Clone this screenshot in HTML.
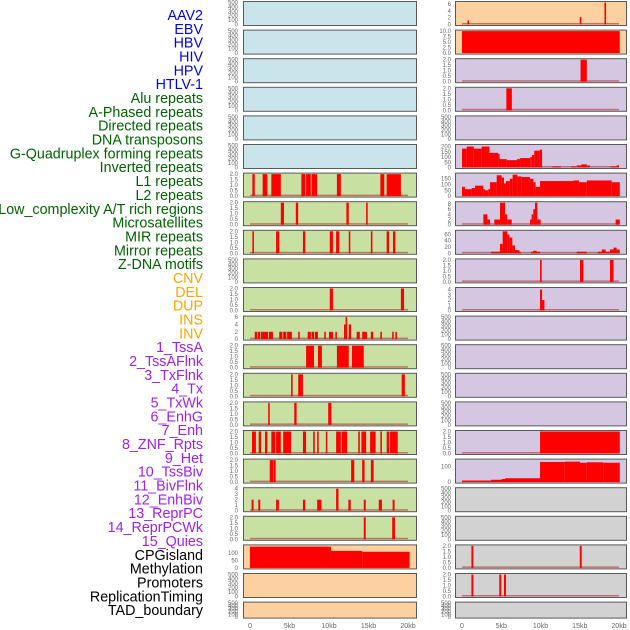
<!DOCTYPE html>
<html><head><meta charset="utf-8">
<style>
html,body{margin:0;padding:0;background:#fff;width:630px;height:630px;overflow:hidden}
svg{display:block}
text{font-family:"Liberation Sans",sans-serif}
</style></head>
<body>
<svg id="chart" width="630" height="630" viewBox="0 0 630 630">
<g id="labels"></g>
<g id="panels"></g>
<g id="xaxes"></g>
</svg>
<script>
// ---- label data ----
const trackLabels = ["AAV2","EBV","HBV","HIV","HPV","HTLV-1","Alu repeats","A-Phased repeats","Directed repeats","DNA transposons","G-Quadruplex forming repeats","Inverted repeats","L1 repeats","L2 repeats","Low_complexity A/T rich regions","Microsatellites","MIR repeats","Mirror repeats","Z-DNA motifs","CNV","DEL","DUP","INS","INV","1_TssA","2_TssAFlnk","3_TxFlnk","4_Tx","5_TxWk","6_EnhG","7_Enh","8_ZNF_Rpts","9_Het","10_TssBiv","11_BivFlnk","12_EnhBiv","13_ReprPC","14_ReprPCWk","15_Quies","CPGisland","Methylation","Promoters","ReplicationTiming","TAD_boundary"];
const labelGroups = [6,13,5,15,5];
const groupColors = ["#0000ff","#006400","#ffa500","#a020f0","#000000"];

// ---- tick label sets ----
const ticks500 = [0,100,200,300,400,500];
const ticks2 = [0.0,0.5,1.0,1.5,2.0];
const ticks6 = [0,2,4,6];
const ticks4 = [0,1,2,3,4];
const ticks10 = [0.0,2.5,5.0,7.5,10.0];
const ticks200 = [0,50,100,150,200];
const ticks150 = [0,50,100,150];
const ticks8 = [0,2,4,6,8];
const ticks60 = [0,20,40,60];
const ticks100 = [0,50,100];
const ticks100b = [0,100];
const xTickKb = [0,5,10,15,20];
const xTickLabels = ["0","5kb","10kb","15kb","20kb"];

// ---- segment data [startKb, endKb, value] ----
const L_L1 = [[0.3,0.6,2],[1.6,2.2,2],[2.7,3.9,2],[6.5,7.0,2],[7.1,7.7,2],[7.8,8.5,2],[11.0,11.5,2],[16.5,17.0,2],[17.3,19.1,2]];
const L_row7 = [[3.9,4.3,2],[5.8,6.1,2],[12.2,12.5,2],[14.7,14.9,2]];
const L_row8 = [[0.3,0.5,2],[3.3,3.7,2],[6.7,7.0,2],[10.1,10.5,2],[10.9,11.3,2],[12.5,12.7,2],[15.3,15.5,2],[17.3,17.6,2],[18.1,18.4,2]];
const L_row10 = [[10.1,10.5,2],[19.1,19.5,2]];
const L_row11 = [[0.6,0.9,2],[1.0,1.3,2],[1.4,2.3,2],[2.4,2.9,2],[3.7,4.1,2],[4.2,4.6,2],[4.7,5.3,2],[6.1,6.3,2],[7.3,7.7,2],[7.8,8.1,2],[8.2,8.6,2],[9.4,9.6,2],[10.0,10.5,2],[10.8,11.0,2],[11.9,12.1,4],[12.1,12.3,6],[12.5,12.8,4],[13.5,13.9,2],[14.2,14.8,2],[15.3,15.6,2],[16.5,16.7,2],[18.0,18.2,2],[18.4,18.6,2]];
const L_row12 = [[7.1,8.1,2],[8.6,9.1,2],[11.0,12.5,2],[12.9,14.4,2]];
const L_row13 = [[5.2,5.4,2],[6.1,6.7,2],[19.2,19.6,2]];
const L_row14 = [[2.3,2.5,2],[5.6,5.9,2],[9.9,10.3,2]];
const L_row15 = [[0.25,0.75,2],[1.1,1.4,2],[1.9,2.2,2],[2.7,3.2,2],[3.3,3.9,2],[4.2,5.2,2],[6.7,7.1,2],[8.0,8.2,2],[8.5,8.7,2],[9.6,9.75,2],[10.9,11.5,2],[11.6,12.3,2],[13.7,13.9,2],[14.1,14.7,2],[15.2,15.9,2],[16.5,16.7,2],[17.3,17.6,2],[17.7,18.7,2]];
const L_row16 = [[2.5,2.95,2],[3.0,3.25,2],[12.8,13.2,2],[14.2,14.5,2],[15.3,15.65,2]];
const L_row17 = [[0.2,0.45,2],[1.05,1.3,2],[3.3,3.65,2],[6.7,7.0,2],[8.5,9.05,2],[10.9,11.2,4],[12.45,12.75,2],[14.4,14.65,2],[16.3,16.7,2],[18.05,18.3,2]];
const L_row18 = [[14.4,14.65,2],[18.0,18.35,2]];
const L_cpg = [[0,10.25,145],[10.25,14.2,116],[14.2,20.2,110]];

const R_row0 = [[0.7,0.9,1.2],[15.0,15.2,2.2],[18.15,18.35,6.5]];
const R_row1 = [[0,20.1,10]];
const R_row2 = [[15.1,15.9,2]];
const R_row3 = [[5.65,6.35,2]];
const R_row5 = [[0,0.6,180],[0.6,1.5,200],[1.5,2.5,180],[2.5,3.5,200],[3.5,4.6,140],[4.6,4.7,130],[4.7,5.7,80],[5.7,7,70],[7,7.4,80],[7.4,8.7,90],[8.7,8.9,100],[8.9,9.2,120],[9.2,9.9,160],[9.9,10.2,170],[11.5,12.6,10],[13.9,14.5,10],[14.6,15.2,20],[15.2,15.9,30],[15.9,16.3,20],[18.9,19.7,10],[19.7,20,20]];
const R_row6 = [[0,0.38,80],[0.38,1.23,60],[1.23,1.66,70],[1.66,2.72,90],[2.72,2.93,60],[2.93,3.35,50],[3.35,3.57,60],[3.57,4.42,120],[4.42,5.05,180],[5.05,5.35,160],[5.35,5.6,110],[5.6,6.1,130],[6.1,6.45,150],[6.45,7.05,185],[7.05,7.6,170],[7.6,8.66,165],[8.66,9.1,150],[9.1,9.38,120],[9.38,9.94,80],[9.94,14.2,130],[14.2,14.9,135],[14.9,15.9,120],[15.9,19.07,135],[19.07,20.1,120]];
const R_row7 = [[2.72,3.23,4],[3.23,3.57,2],[4.12,4.84,2],[4.84,5.48,8.5],[5.48,5.77,4],[5.77,6.33,2],[8.66,8.87,2],[8.87,9.08,4],[9.08,9.3,6],[9.3,9.6,8.5],[9.6,10.02,2],[19.57,20.1,2]];
const R_row8 = [[3.69,4.84,5],[4.84,5.18,30],[5.18,5.77,70],[5.77,6.03,60],[6.03,6.41,50],[6.41,6.75,25],[6.75,7.3,10],[7.3,7.47,5],[8.79,9.08,5],[9.08,9.51,8],[9.51,9.94,5],[14.6,15.9,5],[17.3,17.8,5],[17.8,18.3,12],[18.3,18.85,5],[18.85,19.3,12],[19.3,19.7,18],[19.7,20.1,12]];
const R_row9 = [[9.94,10.15,2],[15.03,15.46,2],[18.85,19.3,2]];
const R_row10 = [[9.94,10.2,4],[10.2,10.5,2]];
const R_row15 = [[9.94,20.1,2]];
const R_row16 = [[0,3.69,10],[3.69,5.05,15],[5.05,5.48,20],[5.48,9.94,25],[9.94,13.1,130],[13.1,15.03,132],[15.03,15.9,125],[15.9,18,128],[18,20.1,125]];
const R_row19 = [[1.2,1.45,2],[15.0,15.25,2]];
const R_row20 = [[1.2,1.45,2],[4.75,5.0,2],[5.35,5.6,2]];

const BLUE="#c9e4ea", GREEN="#c8e1a3", ORANGE="#fdd0a0", PURPLE="#d5c6e2", GRAY="#d2d2d2";
const panels = [];
for (let r=0;r<6;r++) panels.push([0,r,BLUE,ticks500,500,[],"left-panel-"+r]);
const leftGreen = {6:[ticks2,2,L_L1],7:[ticks2,2,L_row7],8:[ticks2,2,L_row8],9:[ticks500,500,[]],10:[ticks2,2,L_row10],11:[ticks6,6,L_row11],12:[ticks2,2,L_row12],13:[ticks2,2,L_row13],14:[ticks2,2,L_row14],15:[ticks2,2,L_row15],16:[ticks2,2,L_row16],17:[ticks4,4,L_row17],18:[ticks2,2,L_row18]};
for (let r=6;r<=18;r++) panels.push([0,r,GREEN,leftGreen[r][0],leftGreen[r][1],leftGreen[r][2],"left-panel-"+r]);
panels.push([0,19,ORANGE,ticks100,150,L_cpg,"left-panel-19"]);
panels.push([0,20,ORANGE,ticks500,500,[],"left-panel-20"]);
panels.push([0,21,ORANGE,ticks500,500,[],"left-panel-21"]);
const rightDefs = {0:[ORANGE,ticks6,6.5,R_row0],1:[ORANGE,ticks10,10,R_row1],2:[PURPLE,ticks2,2,R_row2],3:[PURPLE,ticks2,2,R_row3],4:[PURPLE,ticks500,500,[]],5:[PURPLE,ticks200,210,R_row5],6:[PURPLE,ticks150,190,R_row6],7:[PURPLE,ticks8,8.5,R_row7],8:[PURPLE,ticks60,70,R_row8],9:[PURPLE,ticks2,2,R_row9],10:[PURPLE,ticks4,4.2,R_row10],11:[PURPLE,ticks500,500,[]],12:[PURPLE,ticks500,500,[]],13:[PURPLE,ticks500,500,[]],14:[PURPLE,ticks500,500,[]],15:[PURPLE,ticks2,2,R_row15],16:[PURPLE,ticks100b,142,R_row16],17:[GRAY,ticks500,500,[]],18:[GRAY,ticks500,500,[]],19:[GRAY,ticks2,2,R_row19],20:[GRAY,ticks2,2,R_row20],21:[GRAY,ticks500,500,[]]};
for (let r=0;r<=21;r++){const d=rightDefs[r];panels.push([1,r,d[0],d[1],d[2],d[3],"right-panel-"+r]);}

const NS="http://www.w3.org/2000/svg";
function mk(tag,attrs,parent){const e=document.createElementNS(NS,tag);for(const k in attrs)e.setAttribute(k,attrs[k]);parent.appendChild(e);return e;}
const colX=[[243,416,250,408],[455,626,462,619]];
function xScale(col,kb){const c=colX[col];return c[2]+kb*(c[3]-c[2])/20;}
function rowTop(r){return 1+r*28.6;}
function rowH(r){return r===21?16:24;}

const lg=document.getElementById("labels");
let gi=0,cnt=0;
trackLabels.forEach((t,i)=>{
  const el=mk("text",{x:203,y:15+i*13.84+5,"text-anchor":"end","font-size":"14.3",fill:groupColors[gi]},lg);
  el.textContent=t;
  
  
  cnt++; if(cnt>=labelGroups[gi]){gi++;cnt=0;}
});

const pg=document.getElementById("panels");
panels.forEach(p=>{
  const [col,row,bg,ticks,ymax,segs,name]=p;
  const c=colX[col], top=rowTop(row), h=rowH(row);
  const g=mk("g",{},pg);
  
  
  mk("rect",{x:c[0]+0.5,y:top+0.5,width:c[1]-c[0],height:h,fill:bg,stroke:"#5a5a5a","stroke-width":1},g);
  const y0=top+h-0.5, y1=top+1.5;
  const yS=v=>y0-(v/ymax)*(y0-y1);
  const tx=col===0?238:451;
  ticks.forEach(v=>{
    const t=mk("text",{x:tx,y:yS(v)+2,"text-anchor":"end","font-size":"6",fill:"#666"},g);
    t.textContent=(ticks===ticks2||ticks===ticks10)?v.toFixed(1):String(v);
    
    
  });
  if(segs.length){
    const b=mk("rect",{x:xScale(col,0),y:y0-1.5,width:xScale(col,20)-xScale(col,0),height:1.5,fill:"#b03030","fill-opacity":0.6},g);
    
    
  }
  segs.forEach(s=>{
    const xa=xScale(col,s[0]), xb=xScale(col,s[1]);
    const r=mk("rect",{x:xa,y:yS(s[2]),width:Math.max(1.5,xb-xa),height:y0-yS(s[2]),fill:"#ff0000"},g);
    
    
  });
});

const xg=document.getElementById("xaxes");
[0,1].forEach(col=>{
  xTickKb.forEach((kb,i)=>{
    const t=mk("text",{x:xScale(col,kb),y:628,"text-anchor":"middle","font-size":"7",fill:"#666"},xg);
    t.textContent=xTickLabels[i];
    
    
  });
});
</script>
</body></html>
